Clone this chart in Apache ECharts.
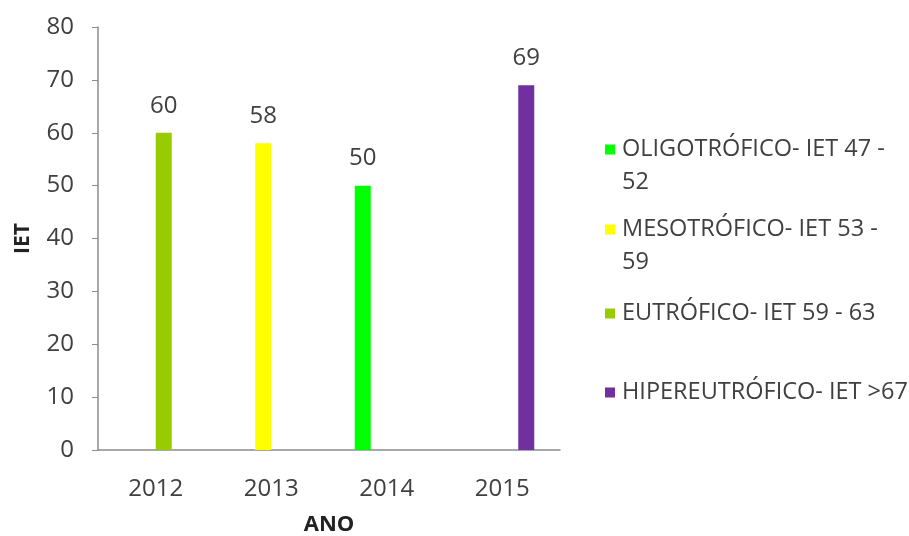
<!DOCTYPE html>
<html>
<head>
<meta charset="utf-8">
<script src="https://cdn.jsdelivr.net/npm/echarts@6/dist/echarts.min.js"></script>
<style>
  html, body { margin: 0; padding: 0; background: #fff; }
  #chart { width: 909px; height: 536px; }
</style>
</head>
<body>
<div id="chart"></div>
<script>
// Trophic state index (IET) per year
const years = ['2012', '2013', '2014', '2015'];
const classNames = [
  'OLIGOTRÓFICO- IET 47 - 52',
  'MESOTRÓFICO- IET 53 - 59',
  'EUTRÓFICO- IET 59 - 63',
  'HIPEREUTRÓFICO- IET >67'
];
const classColors = ['#00FF00', '#FFFF00', '#99CC00', '#7030A0'];
// one value per year for each class; null where the class does not occur
const oligotrofico   = [null, null, 50, null];
const mesotrofico    = [null, 58, null, null];
const eutrofico      = [60, null, null, null];
const hipereutrofico = [null, null, null, 69];
const classValues = [oligotrofico, mesotrofico, eutrofico, hipereutrofico];
const yTicks = { min: 0, max: 80, interval: 10 };

const FONT = 'Open Sans';
const TEXT = '#404040';

// legend entries are broken onto two lines where the label is long
const legendLabels = {
  'OLIGOTRÓFICO- IET 47 - 52': 'OLIGOTRÓFICO- IET 47 -\n52',
  'MESOTRÓFICO- IET 53 - 59': 'MESOTRÓFICO- IET 53 -\n59'
};
const legendTops = [128, 208, 292, 371];
const LINE_H = 33;

// square marker kept level with the first text line of a two-line entry
const squareIcon = 'path://M0,0h10v10h-10z';
const topSquareIcon = 'path://M0,0h10v10h-10z M0,42.98h10v0.02h-10z';

const chart = echarts.init(document.getElementById('chart'), null, { renderer: 'canvas' });

chart.setOption({
  animation: false,
  backgroundColor: '#ffffff',
  textStyle: { fontFamily: FONT },
  grid: {
    left: 98, right: 349, top: 27, bottom: 86,
    containLabel: false,
    outerBoundsMode: 'none'
  },
  legend: classNames.map((n, i) => {
    const twoLine = !!legendLabels[n];
    return {
      data: [n],
      left: 600,
      top: legendTops[i],
      orient: 'vertical',
      icon: twoLine ? topSquareIcon : squareIcon,
      itemWidth: 10,
      itemHeight: twoLine ? 43 : 10,
      itemGap: 0,
      selectedMode: false,
      formatter: name => legendLabels[name] || name,
      textStyle: {
        fontFamily: FONT, fontSize: 23.5, color: TEXT,
        lineHeight: LINE_H, padding: [0, 0, 0, 2]
      }
    };
  }),
  xAxis: {
    type: 'category',
    data: years,
    boundaryGap: true,
    name: 'ANO',
    nameLocation: 'middle',
    nameGap: 64,
    nameTextStyle: { fontFamily: FONT, fontSize: 22, fontWeight: 'bold', color: '#222' },
    axisLine: { lineStyle: { color: '#8c8c8c', width: 1.5 } },
    axisTick: { show: false },
    axisLabel: { margin: 27, fontSize: 24, color: TEXT, fontFamily: FONT }
  },
  yAxis: {
    type: 'value',
    min: yTicks.min,
    max: yTicks.max,
    interval: yTicks.interval,
    name: 'IET',
    nameLocation: 'middle',
    nameGap: 64,
    nameRotate: 90,
    nameTextStyle: { fontFamily: FONT, fontSize: 21, fontWeight: 'bold', color: '#222' },
    splitLine: { show: false },
    axisLine: { show: true, lineStyle: { color: '#8c8c8c', width: 1.5 } },
    axisTick: { show: true, length: 6, lineStyle: { color: '#8c8c8c' } },
    axisLabel: { margin: 24, fontSize: 24, color: TEXT, fontFamily: FONT }
  },
  series: classNames.map((n, i) => ({
    name: n,
    type: 'bar',
    data: classValues[i],
    barWidth: 16,
    barGap: '0%',
    itemStyle: { color: classColors[i] },
    label: {
      show: true,
      position: 'top',
      distance: 15,
      fontSize: 24,
      color: TEXT,
      fontFamily: FONT
    }
  }))
});
</script>
</body>
</html>
